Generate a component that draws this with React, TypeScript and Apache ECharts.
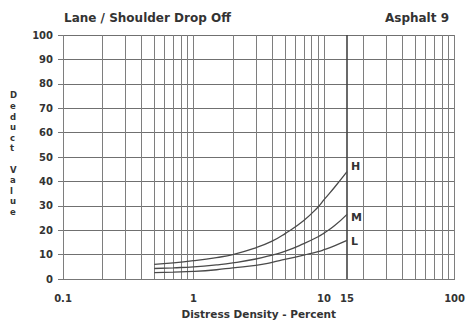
import React, { useEffect, useRef } from "react";
import * as echarts from "echarts";

// Distress density (percent) sampled along each severity curve
const densityPts = [0.5, 0.7, 1, 1.5, 2, 3, 4, 5, 7, 9, 10, 12, 15];
const highDeduct = [6, 6.6, 7.5, 8.8, 10, 12.8, 15.5, 18.5, 24, 29.5, 32.5, 37.5, 44];
const mediumDeduct = [4.3, 4.6, 5, 5.8, 6.6, 8.2, 9.8, 11.3, 14.5, 17.3, 18.8, 21.8, 26.5];
const lowDeduct = [2.6, 2.8, 3.1, 3.8, 4.6, 5.6, 6.8, 8, 9.8, 11.2, 12, 13.6, 15.8];

// Vertical rulings of the log grid
const logRulings = [
  0.1, 0.2, 0.3, 0.4, 0.5, 0.6, 0.7, 0.8, 0.9,
  1, 2, 3, 4, 5, 6, 7, 8, 9,
  10, 20, 30, 40, 50, 60, 70, 80, 90, 100,
];
const maxDensity = 15;
const xTickLabels = ["0.1", "1", "10", "100"];

const FONT = "DejaVu Sans";
const INK = "#333";

export default function App() {
  const ref = useRef<HTMLDivElement>(null);

  useEffect(() => {
    if (!ref.current) return;
    const chart = echarts.init(ref.current, undefined, { renderer: "svg" });

    const curve = (name: string, values: number[], offset: number[]) => ({
      name,
      type: "line",
      data: densityPts.map((d, i) => [d, values[i]]),
      smooth: true,
      showSymbol: false,
      symbol: "none",
      lineStyle: { color: "#4a4a4a", width: 1.3 },
      endLabel: {
        show: true,
        formatter: name,
        distance: 3,
        offset,
        fontFamily: FONT,
        fontWeight: "bold",
        fontSize: 11,
        color: INK,
      },
      z: 5,
    });

    const rulings = logRulings.map((v) => ({
      xAxis: v,
      lineStyle: { color: "#7e7e7e", width: 1, type: "solid" },
    }));
    rulings.push({
      xAxis: maxDensity,
      lineStyle: { color: "#444", width: 1.6, type: "solid" },
      label: {
        show: true,
        position: "start",
        formatter: String(maxDensity),
        distance: 14,
        fontFamily: FONT,
        fontWeight: "bold",
        fontSize: 10,
        color: INK,
      },
    } as any);

    chart.setOption({
      animation: false,
      backgroundColor: "#fff",
      title: [
        {
          text: "Lane / Shoulder Drop Off",
          left: 59,
          top: 7,
          textStyle: { fontFamily: FONT, fontWeight: "bold", fontSize: 12, color: INK },
        },
        {
          text: "Asphalt 9",
          right: 14,
          top: 7,
          textStyle: { fontFamily: FONT, fontWeight: "bold", fontSize: 12, color: INK },
        },
      ],
      grid: { left: 63, right: 11, top: 35, bottom: 39 },
      xAxis: {
        type: "log",
        logBase: 10,
        min: 0.1,
        max: 100,
        name: "Distress Density - Percent",
        nameLocation: "middle",
        nameGap: 29,
        nameTextStyle: { fontFamily: FONT, fontWeight: "bold", fontSize: 10.5, color: INK },
        axisLine: { show: true, lineStyle: { color: "#777", width: 1 } },
        axisTick: { show: false },
        splitLine: { show: false },
        axisLabel: {
          margin: 14,
          fontFamily: FONT,
          fontWeight: "bold",
          fontSize: 10,
          color: INK,
          formatter: (v: number) => {
            const s = String(+v.toPrecision(3));
            return xTickLabels.includes(s) ? s : "";
          },
        },
      },
      yAxis: {
        type: "value",
        min: 0,
        max: 100,
        interval: 10,
        axisLine: { show: false },
        axisTick: { show: true, length: 5, lineStyle: { color: "#777" } },
        splitLine: { show: true, lineStyle: { color: "#707070", width: 1 } },
        axisLabel: {
          margin: 10,
          fontFamily: FONT,
          fontWeight: "bold",
          fontSize: 10,
          color: INK,
        },
      },
      graphic: [
        {
          type: "text",
          left: 10,
          top: 90,
          style: {
            text: "D\ne\nd\nu\nc\nt\n\nV\na\nl\nu\ne",
            fontFamily: FONT,
            fontWeight: "bold",
            fontSize: 8.5,
            lineHeight: 10.6,
            fill: INK,
            align: "center",
          },
        },
      ],
      series: [
        {
          name: "rulings",
          type: "line",
          data: [],
          silent: true,
          markLine: {
            silent: true,
            symbol: "none",
            label: { show: false },
            data: rulings,
          },
          z: 1,
        },
        curve("H", highDeduct, [1, -5]),
        curve("M", mediumDeduct, [1, 3]),
        curve("L", lowDeduct, [1, 1.5]),
      ],
    });

    return () => chart.dispose();
  }, []);

  return (
    <div
      ref={ref}
      style={{ position: "absolute", left: 0, top: 0, width: 468, height: 324 }}
    />
  );
}
